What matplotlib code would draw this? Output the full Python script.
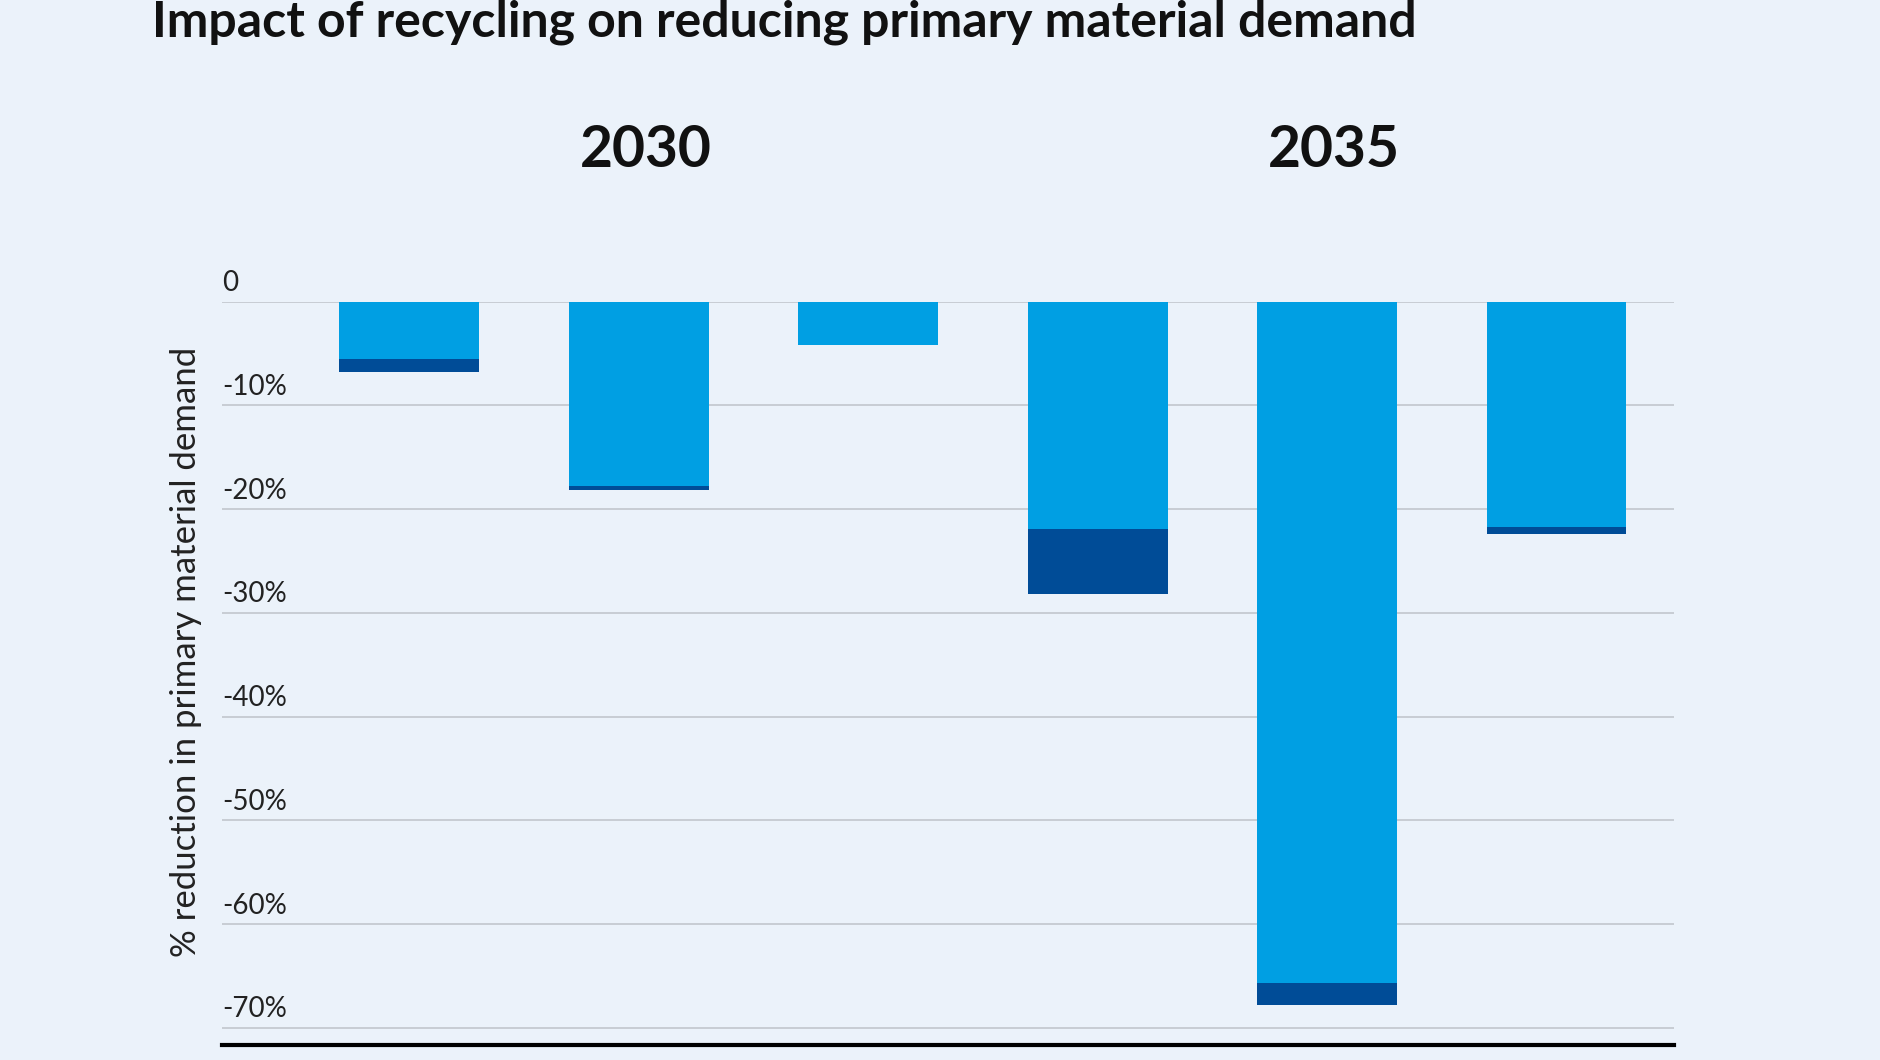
import numpy as np
import matplotlib.pyplot as plt

# values (% reduction, shown as negative)
bar_names = ['a_2030', 'b_2030', 'c_2030', 'a_2035', 'b_2035', 'c_2035']
light_vals = [5.5, 17.8, 4.2, 21.9, 65.7, 21.7]
dark_vals = [1.3, 0.4, 0.0, 6.3, 2.1, 0.7]
year_labels = ['2030', '2035']
year_pos = [1, 4]
yticks = [0, -10, -20, -30, -40, -50, -60, -70]
ytick_labels = ['0', '-10%', '-20%', '-30%', '-40%', '-50%', '-60%', '-70%']

bg = '#ebf2fa'
light_col = '#009fe3'
dark_col = '#004c97'
grid_col = '#c8ccd3'

plt.rcParams['font.family'] = ['Lato', 'DejaVu Sans']

fig = plt.figure(figsize=(18.8, 10.6), dpi=100, facecolor=bg)
ax = fig.add_axes([0.1181, 0.0137, 0.7723, 0.7017], facecolor=bg)

x = np.arange(len(bar_names))
light = -np.array(light_vals)
dark = -np.array(dark_vals)
ax.bar(x, light, width=0.61, color=light_col, zorder=3)
ax.bar(x, dark, bottom=light, width=0.61, color=dark_col, zorder=3)

for v in yticks:
    ax.axhline(v, color=grid_col, lw=1.4, zorder=1)

ax.set_xlim(-0.817, 5.512)
ax.set_ylim(-71.7, 0)
ax.set_xticks([])
ax.set_yticks([])
for s in ['top', 'left', 'right']:
    ax.spines[s].set_visible(False)
ax.spines['bottom'].set_color('black')
ax.spines['bottom'].set_linewidth(3)

for v, lab in zip(yticks, ytick_labels):
    ax.annotate(lab, xy=(0, v), xycoords=('axes fraction', 'data'),
                xytext=(0, 4), textcoords='offset points',
                ha='left', va='bottom', fontsize=20, color='#222222',
                annotation_clip=False)

for p, lab in zip(year_pos, year_labels):
    ax.annotate(lab, xy=(p, 0), xycoords='data', xytext=(5, 109),
                textcoords='offset points', ha='center', va='center',
                fontsize=41, fontweight='bold', color='#111111',
                annotation_clip=False)

fig.text(0.099, 0.385, '% reduction in primary material demand', rotation=90,
         ha='center', va='center', fontsize=25, color='#222222')

fig.text(0.0809, 0.966, 'Impact of recycling on reducing primary material demand',
         ha='left', va='baseline', fontsize=36, fontweight='bold', color='#111111')

fig.savefig('out.png', dpi=100, facecolor=bg)
